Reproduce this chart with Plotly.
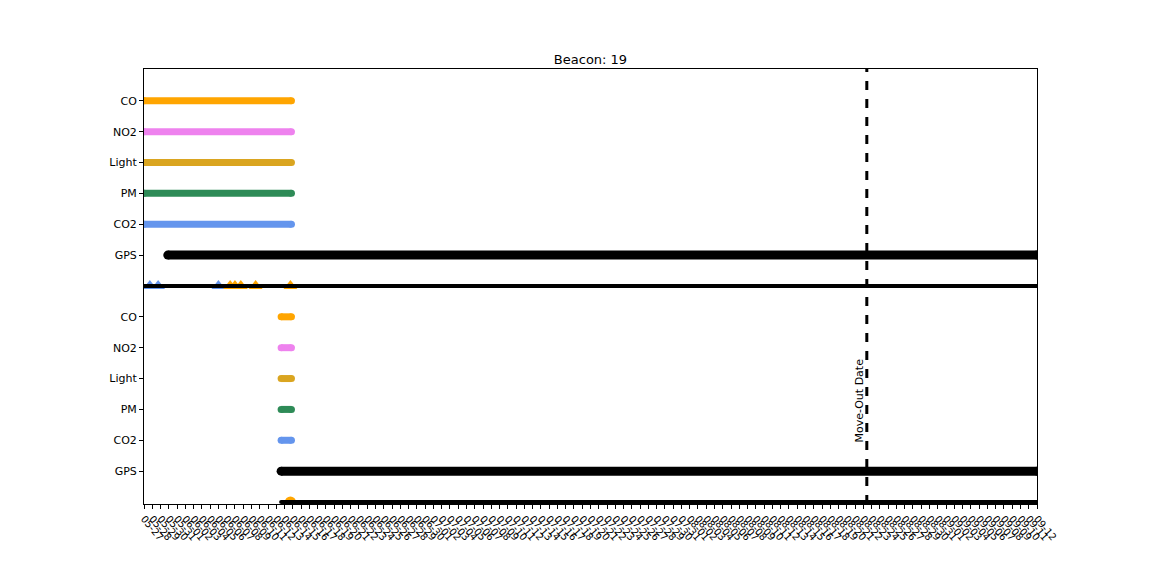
import plotly.graph_objects as go
import pandas as pd

# ---- data ----
axis_start = "2020-05-27"
axis_end = "2020-09-12"
sensors = ["CO", "NO2", "Light", "PM", "CO2", "GPS"]
colors = {"CO": "#FFA500", "NO2": "#EE82EE", "Light": "#DAA520",
          "PM": "#2E8B57", "CO2": "#6495ED", "GPS": "#000000"}

# upper block (y 8..13), lower block (y 1..6)
upper_start = {"CO": "2020-05-27", "NO2": "2020-05-27", "Light": "2020-05-27",
               "PM": "2020-05-27", "CO2": "2020-05-27", "GPS": "2020-05-29 21:00"}
upper_end = {"CO": "2020-06-13 20:00", "NO2": "2020-06-13 20:00", "Light": "2020-06-13 20:00",
             "PM": "2020-06-13 20:00", "CO2": "2020-06-13 20:00", "GPS": "2020-09-12"}
lower_start = {"CO": "2020-06-12 14:00", "NO2": "2020-06-12 14:00", "Light": "2020-06-12 14:00",
               "PM": "2020-06-12 14:00", "CO2": "2020-06-12 14:00", "GPS": "2020-06-12 14:00"}
lower_end = {"CO": "2020-06-13 20:00", "NO2": "2020-06-13 20:00", "Light": "2020-06-13 20:00",
             "PM": "2020-06-13 20:00", "CO2": "2020-06-13 20:00", "GPS": "2020-09-12"}

# survey / event rows
upper_event_span = ["2020-05-27", "2020-09-12"]
lower_event_span = ["2020-06-12 14:00", "2020-09-12"]
upper_blue_events = ["2020-05-27 17:00", "2020-05-28 17:00", "2020-06-05"]
upper_orange_events = ["2020-06-06 10:00", "2020-06-07", "2020-06-07 17:00",
                       "2020-06-09 12:00", "2020-06-13 17:00"]
lower_orange_events = ["2020-06-13 17:00"]

move_out_date = "2020-08-22 10:00"
beacon = 19

tick_dates = pd.date_range(axis_start, axis_end, freq="D")
tick_labels = [d.strftime("%m-%d") for d in tick_dates]

upper_y = {s: 13 - i for i, s in enumerate(sensors)}   # CO=13 ... GPS=8
lower_y = {s: 6 - i for i, s in enumerate(sensors)}    # CO=6 ... GPS=1

fig = go.Figure()

def seg(x0, x1, y, color, width, msize):
    fig.add_trace(go.Scatter(x=[x0, x1], y=[y, y], mode="lines+markers",
                             line=dict(color=color, width=width),
                             marker=dict(color=color, size=msize, symbol="circle"),
                             showlegend=False, hoverinfo="skip"))

for s in sensors:
    w = 9 if s == "GPS" else 7
    seg(upper_start[s], upper_end[s], upper_y[s], colors[s], w, w)
    seg(lower_start[s], lower_end[s], lower_y[s], colors[s], w, w)

# event markers (beneath event line)
fig.add_trace(go.Scatter(x=upper_blue_events, y=[7] * len(upper_blue_events), mode="markers",
                         marker=dict(symbol="triangle-up", size=12, color="#6495ED"),
                         showlegend=False, hoverinfo="skip"))
fig.add_trace(go.Scatter(x=upper_orange_events, y=[7] * len(upper_orange_events), mode="markers",
                         marker=dict(symbol="triangle-up", size=12, color="#FFA500"),
                         showlegend=False, hoverinfo="skip"))
fig.add_trace(go.Scatter(x=lower_orange_events, y=[0] * len(lower_orange_events), mode="markers",
                         marker=dict(symbol="circle", size=11, color="#FFA500"),
                         showlegend=False, hoverinfo="skip"))

seg(upper_event_span[0], upper_event_span[1], 7, "black", 4, 4)
seg(lower_event_span[0], lower_event_span[1], 0, "black", 4, 4)

# move-out line
fig.add_shape(type="line", x0=move_out_date, x1=move_out_date, xref="x",
              y0=0, y1=1, yref="paper", line=dict(color="black", width=3, dash="dash"))
fig.add_annotation(x=move_out_date, y=2, xref="x", yref="y", text="Move-Out Date",
                   textangle=-90, showarrow=False, xanchor="right", yanchor="bottom",
                   xshift=1, yshift=-4, font=dict(size=11, color="black", family="DejaVu Sans"))

ytickvals = [upper_y[s] for s in sensors] + [lower_y[s] for s in sensors]
yticktext = sensors + sensors

fig.update_layout(
    width=1152, height=576,
    margin=dict(l=144, r=115, t=69, b=72),
    plot_bgcolor="white", paper_bgcolor="white",
    font=dict(family="DejaVu Sans", size=11, color="black"),
    title=dict(text=f"Beacon: {beacon}", x=0.5, xref="paper", xanchor="center",
               y=1 - 59 / 576, yanchor="middle", font=dict(size=13, color="black")),
    showlegend=False,
)
fig.update_xaxes(type="date", range=[axis_start, axis_end],
                 tickmode="array", tickvals=tick_dates, ticktext=tick_labels,
                 tickangle=50, tickfont=dict(size=10),
                 ticks="outside", ticklen=4, tickcolor="black",
                 showgrid=False, zeroline=False,
                 showline=True, linecolor="black", linewidth=1, mirror=True)
fig.update_yaxes(range=[-0.065, 14.03], tickmode="array", tickvals=ytickvals, ticktext=yticktext,
                 ticks="outside", ticklen=4, tickcolor="black",
                 showgrid=False, zeroline=False,
                 showline=True, linecolor="black", linewidth=1, mirror=True)

fig.write_html("out.html")
